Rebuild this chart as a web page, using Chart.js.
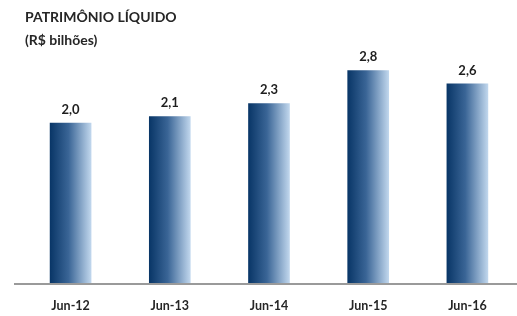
<!DOCTYPE html>
<html>
<head>
<meta charset="utf-8">
<script src="https://cdn.jsdelivr.net/npm/chart.js@4"></script>
<style>
html,body{margin:0;padding:0;background:#fff;}
#wrap{width:517px;height:316px;position:relative;}
</style>
</head>
<body>
<div id="wrap"><canvas id="c" width="517" height="316"></canvas></div>
<script>
const titleText = "PATRIMÔNIO LÍQUIDO";
const subtitleText = "(R$ bilhões)";
const categories = ["Jun-12", "Jun-13", "Jun-14", "Jun-15", "Jun-16"];
const values = [2.0, 2.1, 2.3, 2.8, 2.6];
const axisMin = -0.45;
const axisMax = 3.26;

const FONT = "Lato, 'Open Sans', sans-serif";

const decor = {
  id: 'decor',
  beforeDatasetsDraw(chart) {
    const meta = chart.getDatasetMeta(0);
    const ctx = chart.ctx;
    meta.data.forEach(el => {
      const x0 = el.x - el.width / 2, x1 = el.x + el.width / 2;
      const g = ctx.createLinearGradient(x0, 0, x1, 0);
      g.addColorStop(0, '#083566');
      g.addColorStop(0.45, '#3a6596');
      g.addColorStop(1, '#c2d8ee');
      el.options = Object.assign({}, el.options, { backgroundColor: g });
    });
  },
  afterDatasetsDraw(chart) {
    const ctx = chart.ctx;
    const meta = chart.getDatasetMeta(0);
    ctx.save();
    ctx.font = "bold 13px " + FONT;
    ctx.fillStyle = '#1e1e1e';
    ctx.textAlign = 'center';
    ctx.textBaseline = 'middle';
    meta.data.forEach((el, i) => {
      ctx.fillText(values[i].toFixed(1).replace('.', ','), el.x, el.y - 13);
    });
    const y = chart.scales.y.getPixelForValue(axisMin);
    ctx.strokeStyle = '#9a9a9a';
    ctx.lineWidth = 2;
    ctx.beginPath();
    ctx.moveTo(14, y);
    ctx.lineTo(517, y);
    ctx.stroke();
    ctx.textAlign = 'left';
    ctx.textBaseline = 'middle';
    ctx.fillStyle = '#262626';
    ctx.font = "bold 14px " + FONT;
    ctx.fillText(titleText, 25, 17);
    ctx.font = "bold 14px " + FONT;
    ctx.fillText(subtitleText, 25, 40);
    ctx.restore();
  }
};

new Chart(document.getElementById('c'), {
  type: 'bar',
  data: {
    labels: categories,
    datasets: [{
      data: values,
      base: axisMin,
      backgroundColor: (c) => '#3a6596',
      borderWidth: 0,
      barPercentage: 0.42,
      categoryPercentage: 1.0
    }]
  },
  options: {
    responsive: false,
    animation: false,
    devicePixelRatio: 1,
    layout: { padding: { left: 21, right: 0, top: 40, bottom: 0 } },
    plugins: { legend: { display: false }, tooltip: { enabled: false }, title: { display: false } },
    scales: {
      y: { display: false, min: axisMin, max: axisMax },
      x: {
        offset: true,
        grid: { display: false, drawTicks: false },
        border: { display: false },
        afterFit(scale) { scale.height = 32; },
        ticks: { padding: 14, color: '#262626', font: { family: FONT, size: 12.5, weight: 'bold' } }
      }
    }
  },
  plugins: [decor]
});
</script>
</body>
</html>
